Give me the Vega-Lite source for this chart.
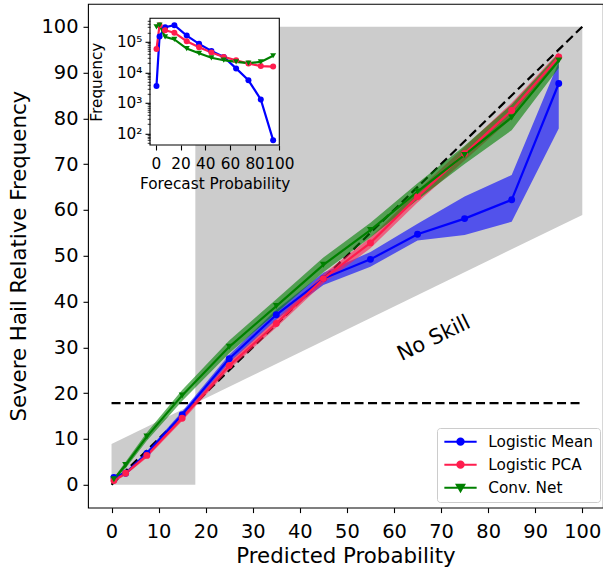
{
  "$schema": "https://vega.github.io/schema/vega-lite/v6.json",
  "width": 515,
  "height": 503.8,
  "autosize": {"type": "none"},
  "padding": {"left": 88, "top": 3.8, "right": 0, "bottom": 62.4},
  "background": "white",
  "config": {
    "font": "DejaVu Sans",
    "view": {"stroke": "black", "strokeWidth": 1.1},
    "axis": {"grid": false, "domain": false, "tickColor": "black", "tickWidth": 1.1, "labelColor": "black", "titleColor": "black", "titleFontWeight": "normal", "labelFont": "DejaVu Sans", "titleFont": "DejaVu Sans", "labelFlush": false, "labelOverlap": false}
  },
  "datasets": {
    "rel": [
      {"model": "Logistic Mean", "p": 0.5, "obs": 1.6, "lo": 1.3, "hi": 1.9, "n": 3600},
      {"model": "Logistic Mean", "p": 3, "obs": 2.5, "lo": 2.1, "hi": 2.9, "n": 150000},
      {"model": "Logistic Mean", "p": 7.5, "obs": 6.8, "lo": 6.3, "hi": 7.3, "n": 300000},
      {"model": "Logistic Mean", "p": 15, "obs": 15.3, "lo": 14.6, "hi": 16.0, "n": 350000},
      {"model": "Logistic Mean", "p": 25, "obs": 27.5, "lo": 26.6, "hi": 28.4, "n": 160000},
      {"model": "Logistic Mean", "p": 35, "obs": 37.1, "lo": 36.0, "hi": 38.2, "n": 86000},
      {"model": "Logistic Mean", "p": 45, "obs": 45.0, "lo": 43.6, "hi": 46.3, "n": 50000},
      {"model": "Logistic Mean", "p": 55, "obs": 49.2, "lo": 47.6, "hi": 50.8, "n": 32000},
      {"model": "Logistic Mean", "p": 65, "obs": 54.7, "lo": 53.3, "hi": 57.0, "n": 13500},
      {"model": "Logistic Mean", "p": 75, "obs": 58.1, "lo": 54.5, "hi": 62.9, "n": 5500},
      {"model": "Logistic Mean", "p": 85, "obs": 62.2, "lo": 57.4, "hi": 67.6, "n": 1300},
      {"model": "Logistic Mean", "p": 95, "obs": 87.6, "lo": 77.8, "hi": 92.3, "n": 60},
      {"model": "Logistic PCA", "p": 0.5, "obs": 0.9, "lo": 0.6, "hi": 1.2, "n": 58000},
      {"model": "Logistic PCA", "p": 3, "obs": 2.5, "lo": 2.1, "hi": 2.9, "n": 350000},
      {"model": "Logistic PCA", "p": 7.5, "obs": 6.4, "lo": 5.9, "hi": 6.9, "n": 240000},
      {"model": "Logistic PCA", "p": 15, "obs": 14.5, "lo": 13.9, "hi": 15.1, "n": 200000},
      {"model": "Logistic PCA", "p": 25, "obs": 26.0, "lo": 25.2, "hi": 26.8, "n": 105000},
      {"model": "Logistic PCA", "p": 35, "obs": 35.2, "lo": 34.3, "hi": 36.1, "n": 66000},
      {"model": "Logistic PCA", "p": 45, "obs": 45.0, "lo": 44.0, "hi": 46.0, "n": 45000},
      {"model": "Logistic PCA", "p": 55, "obs": 52.8, "lo": 51.6, "hi": 54.0, "n": 32000},
      {"model": "Logistic PCA", "p": 65, "obs": 62.9, "lo": 61.6, "hi": 64.2, "n": 25000},
      {"model": "Logistic PCA", "p": 75, "obs": 72.3, "lo": 70.8, "hi": 73.8, "n": 19500},
      {"model": "Logistic PCA", "p": 85, "obs": 81.7, "lo": 80.0, "hi": 83.4, "n": 16000},
      {"model": "Logistic PCA", "p": 95, "obs": 93.4, "lo": 92.3, "hi": 94.4, "n": 15500},
      {"model": "Conv. Net", "p": 0.5, "obs": 1.2, "lo": 0.9, "hi": 1.5, "n": 310000},
      {"model": "Conv. Net", "p": 3, "obs": 4.3, "lo": 3.6, "hi": 5.0, "n": 350000},
      {"model": "Conv. Net", "p": 7.5, "obs": 10.5, "lo": 9.6, "hi": 11.4, "n": 145000},
      {"model": "Conv. Net", "p": 15, "obs": 19.5, "lo": 18.3, "hi": 20.7, "n": 120000},
      {"model": "Conv. Net", "p": 25, "obs": 30.1, "lo": 28.7, "hi": 31.5, "n": 60000},
      {"model": "Conv. Net", "p": 35, "obs": 39.0, "lo": 37.5, "hi": 40.5, "n": 42000},
      {"model": "Conv. Net", "p": 45, "obs": 48.0, "lo": 46.4, "hi": 49.6, "n": 30000},
      {"model": "Conv. Net", "p": 55, "obs": 55.6, "lo": 54.0, "hi": 57.2, "n": 25000},
      {"model": "Conv. Net", "p": 65, "obs": 64.0, "lo": 62.2, "hi": 65.8, "n": 22000},
      {"model": "Conv. Net", "p": 75, "obs": 72.0, "lo": 70.0, "hi": 74.0, "n": 20000},
      {"model": "Conv. Net", "p": 85, "obs": 80.2, "lo": 77.4, "hi": 83.0, "n": 22000},
      {"model": "Conv. Net", "p": 95, "obs": 92.6, "lo": 91.0, "hi": 94.2, "n": 35000}
    ],
    "skill": [
      {"region": "below", "p": 0, "lo": 0, "hi": 8.9},
      {"region": "below", "p": 17.8, "lo": 0, "hi": 17.8},
      {"region": "above", "p": 17.8, "lo": 17.8, "hi": 100},
      {"region": "above", "p": 100, "lo": 58.9, "hi": 100}
    ],
    "refs": [
      {"kind": "perfect", "p": 0, "obs": 0, "p2": 100, "obs2": 100},
      {"kind": "climatology", "p": 0, "obs": 17.8, "p2": 100, "obs2": 17.8}
    ],
    "notes": [
      {"label": "No Skill", "p": 68.5, "obs": 31.9}
    ]
  },
  "layer": [
    {
      "layer": [
        {
          "data": {"name": "skill"},
          "mark": {"type": "area", "color": "#cccccc", "opacity": 1},
          "encoding": {
            "x": {"field": "p", "type": "quantitative", "scale": {"domain": [-5, 104.4], "nice": false, "zero": false},
              "axis": {"orient": "bottom", "values": [0, 10, 20, 30, 40, 50, 60, 70, 80, 90, 100], "tickSize": 5, "labelFontSize": 19.4, "labelBaseline": "alphabetic", "labelPadding": 24.4, "title": "Predicted Probability", "titleFontSize": 21.3, "titleBaseline": "alphabetic", "titleY": 54.6}},
            "y": {"field": "lo", "type": "quantitative", "scale": {"domain": [-5, 105], "nice": false, "zero": false},
              "axis": {"orient": "left", "values": [0, 10, 20, 30, 40, 50, 60, 70, 80, 90, 100], "tickSize": 5, "labelFontSize": 19.4, "labelPadding": 5, "title": "Severe Hail Relative Frequency", "titleFontSize": 21.3, "titleBaseline": "alphabetic", "titleX": -62.5}},
            "y2": {"field": "hi"},
            "detail": {"field": "region"}
          }
        },
        {
          "data": {"name": "refs"},
          "mark": {"type": "rule", "color": "black", "strokeWidth": 2.2, "strokeDash": [9, 4.5]},
          "encoding": {
            "x": {"field": "p", "type": "quantitative", "axis": null},
            "y": {"field": "obs", "type": "quantitative", "axis": null},
            "x2": {"field": "p2"},
            "y2": {"field": "obs2"}
          }
        },
        {
          "data": {"name": "rel"},
          "mark": {"type": "area", "opacity": 0.6},
          "encoding": {
            "x": {"field": "p", "type": "quantitative", "axis": null},
            "y": {"field": "lo", "type": "quantitative", "axis": null},
            "y2": {"field": "hi"},
            "color": {"field": "model", "type": "nominal", "scale": {"domain": ["Logistic Mean", "Logistic PCA", "Conv. Net"], "range": ["#0000ff", "#ff1d4e", "#008000"]}, "legend": null}
          }
        },
        {
          "data": {"name": "rel"},
          "mark": {"type": "line", "strokeWidth": 2.2},
          "encoding": {
            "x": {"field": "p", "type": "quantitative", "axis": null},
            "y": {"field": "obs", "type": "quantitative", "axis": null},
            "color": {"field": "model", "type": "nominal", "legend": null}
          }
        },
        {
          "data": {"name": "rel"},
          "mark": {"type": "point", "filled": true, "opacity": 1, "size": 48},
          "encoding": {
            "x": {"field": "p", "type": "quantitative", "axis": null},
            "y": {"field": "obs", "type": "quantitative", "axis": null},
            "color": {"field": "model", "type": "nominal",
              "legend": {"title": null, "orient": "none", "legendX": 349, "legendY": 424.2, "symbolSize": 100, "symbolStrokeWidth": 2, "symbolOpacity": 1, "labelFontSize": 15.3, "labelColor": "black", "labelOffset": 30, "labelLimit": 300, "rowPadding": 7, "padding": 6, "cornerRadius": 3, "strokeColor": "#cccccc", "fillColor": "white",
                "encode": {"symbols": {"update": {
                  "shape": {"signal": "datum.value === 'Conv. Net' ? 'M-1.26,0H5.2M1.22,-0.6L2.72,-0.6L1.97,0.7Z' : 'M-1.26,0H5.2M2.61,0A0.64,0.64,0,1,1,1.33,0A0.64,0.64,0,1,1,2.61,0Z'"},
                  "stroke": {"scale": "color", "field": "value"},
                  "fill": {"scale": "color", "field": "value"},
                  "opacity": {"value": 1}
                }}}}},
            "shape": {"field": "model", "type": "nominal", "scale": {"domain": ["Logistic Mean", "Logistic PCA", "Conv. Net"], "range": ["circle", "circle", "triangle-down"]}, "legend": null}
          }
        },
        {
          "data": {"name": "notes"},
          "mark": {"type": "text", "fontSize": 21, "angle": 334, "align": "center", "baseline": "middle", "color": "black"},
          "encoding": {
            "x": {"field": "p", "type": "quantitative", "axis": null},
            "y": {"field": "obs", "type": "quantitative", "axis": null},
            "text": {"field": "label"}
          }
        }
      ],
      "resolve": {"axis": {"x": "independent", "y": "independent"}, "legend": {"color": "independent"}}
    },
    {
      "layer": [
        {
          "data": {"values": [{}]},
          "mark": {"type": "rect", "fill": "white", "stroke": "black", "strokeWidth": 1.1},
          "encoding": {
            "x": {"datum": -4.75, "type": "quantitative", "scale": {"domain": [-4.75, 100], "range": [62, 191.3], "nice": false, "zero": false}, "axis": null},
            "x2": {"datum": 100},
            "y": {"datum": 41.7, "type": "quantitative", "scale": {"type": "log", "domain": [41.7, 590000], "range": [141.2, 14.5], "nice": false}, "axis": null},
            "y2": {"datum": 590000}
          }
        },
        {
          "data": {"name": "rel"},
          "mark": {"type": "line", "strokeWidth": 2.2},
          "encoding": {
            "x": {"field": "p", "type": "quantitative",
              "axis": {"orient": "bottom", "offset": -362.6, "zindex": 1, "values": [0, 20, 40, 60, 80, 100], "tickSize": 5, "labelFontSize": 15.3, "labelBaseline": "alphabetic", "labelPadding": 18, "title": "Forecast Probability", "titleFontSize": 15.3, "titleBaseline": "alphabetic", "titleY": 43}},
            "y": {"field": "n", "type": "quantitative",
              "axis": {"orient": "left", "offset": -62, "zindex": 1, "values": [100, 1000, 10000, 100000], "labelExpr": "datum.value == 100 ? '10²' : datum.value == 1000 ? '10³' : datum.value == 10000 ? '10⁴' : '10⁵'", "tickSize": 5, "labelFontSize": 15.3, "labelPadding": 3, "title": "Frequency", "titleFontSize": 15.3, "titleBaseline": "alphabetic", "titleX": -49}},
            "color": {"field": "model", "type": "nominal", "legend": null}
          }
        },
        {
          "data": {"name": "rel"},
          "mark": {"type": "point", "filled": true, "opacity": 1, "size": 36},
          "encoding": {
            "x": {"field": "p", "type": "quantitative", "axis": null},
            "y": {"field": "n", "type": "quantitative",
              "axis": {"orient": "left", "offset": -62, "zindex": 1, "values": [50, 60, 70, 80, 90, 200, 300, 400, 500, 600, 700, 800, 900, 2000, 3000, 4000, 5000, 6000, 7000, 8000, 9000, 20000, 30000, 40000, 50000, 60000, 70000, 80000, 90000, 200000, 300000, 400000, 500000], "labels": false, "tickSize": 2.8, "tickWidth": 0.8, "title": null}},
            "color": {"field": "model", "type": "nominal", "legend": null},
            "shape": {"field": "model", "type": "nominal", "legend": null}
          }
        }
      ],
      "resolve": {"axis": {"x": "independent", "y": "independent"}}
    }
  ],
  "resolve": {"scale": {"x": "independent", "y": "independent"}, "axis": {"x": "independent", "y": "independent"}}
}
